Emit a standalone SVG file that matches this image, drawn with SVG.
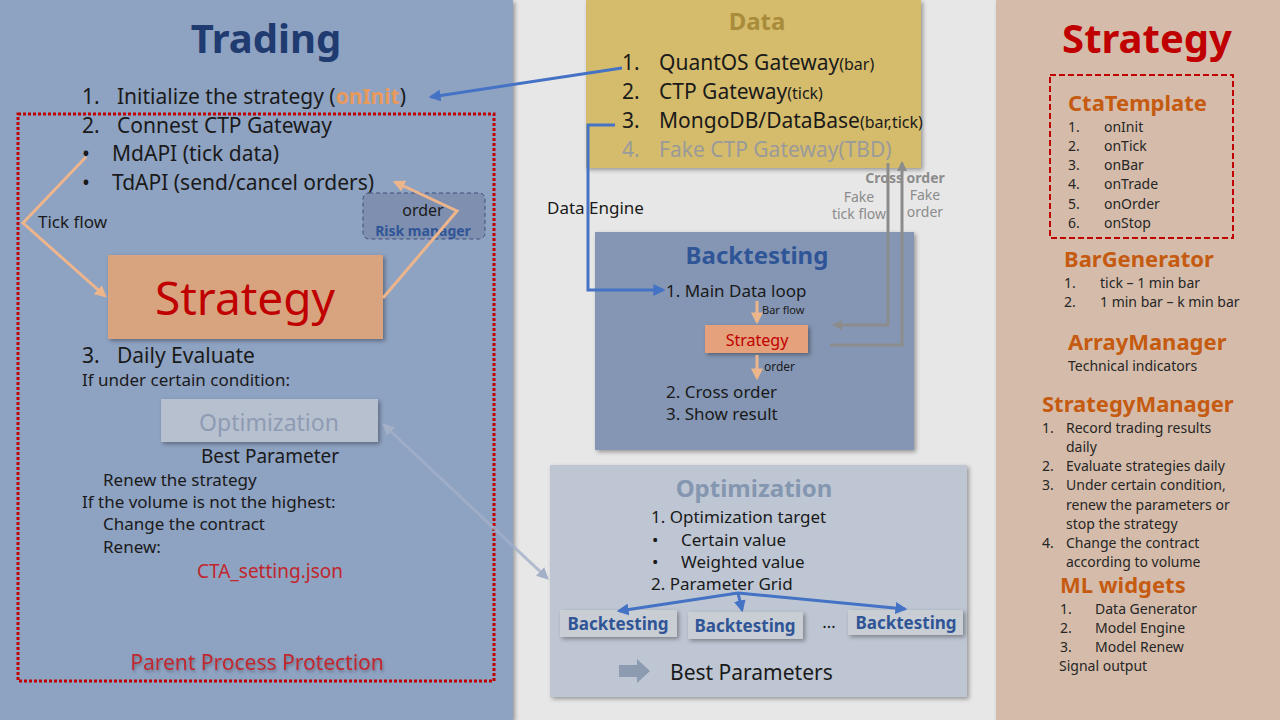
<svg xmlns="http://www.w3.org/2000/svg" width="1280" height="720" viewBox="0 0 1280 720">
<defs>
<style>
text{font-family:"Noto Sans","Open Sans","Liberation Sans",sans-serif;fill:#1a1a1a}
.b{font-weight:bold}
.t17{font-size:17px}
.t15{font-size:15px}
.t14{font-size:14px}
.t22{font-size:21px}
.h{font-weight:bold;fill:#C55A11;font-size:22px}
.item{font-size:14px;fill:#262626}
.tan{stroke:#EDB58C;stroke-width:3;fill:none}
.blue{stroke:#4472C4;stroke-width:3;fill:none}
.gray{stroke:#8C8C8C;stroke-width:3;fill:none}
.bt{font-weight:bold;fill:#2F5597;font-size:17px}
</style>
<filter id="sh" x="-10%" y="-10%" width="130%" height="140%"><feDropShadow dx="2" dy="2" stdDeviation="2" flood-color="#000" flood-opacity="0.35"/></filter>
<filter id="tsh" x="-10%" y="-30%" width="120%" height="180%"><feDropShadow dx="1" dy="2" stdDeviation="1.5" flood-color="#000" flood-opacity="0.3"/></filter>
<marker id="aTan" viewBox="0 0 10 10" refX="8" refY="5" markerWidth="4" markerHeight="4" orient="auto-start-reverse"><path d="M0,0L10,5L0,10z" fill="#EDB58C"/></marker>
<marker id="aBlue" viewBox="0 0 10 10" refX="8" refY="5" markerWidth="4" markerHeight="4" orient="auto-start-reverse"><path d="M0,0L10,5L0,10z" fill="#4472C4"/></marker>
<marker id="aGray" viewBox="0 0 10 10" refX="8" refY="5" markerWidth="3.5" markerHeight="3.5" orient="auto-start-reverse"><path d="M0,0L10,5L0,10z" fill="#8C8C8C"/></marker>
<marker id="aLb" viewBox="0 0 10 10" refX="8" refY="5" markerWidth="4" markerHeight="4" orient="auto-start-reverse"><path d="M0,0L10,5L0,10z" fill="#A3B0C8"/></marker>
</defs>
<rect width="1280" height="720" fill="#E7E7E7"/>

<g id="trading-panel">
<rect x="0" y="0" width="513" height="720" fill="#8EA2C2" filter="url(#sh)"/>
<text x="266" y="53" text-anchor="middle" class="b" style="font-size:40px;fill:#1F3B6F">Trading</text>
<text x="82" y="104" class="t22">1.</text>
<text x="117" y="104" class="t22">Initialize the strategy (<tspan style="fill:#E89A5C;font-weight:bold">onInit</tspan>)</text>
<rect x="18" y="114" width="476" height="567" fill="none" stroke="#C00000" stroke-width="3" stroke-dasharray="3,2"/>
<text x="82" y="133" class="t22">2.</text>
<text x="117" y="133" class="t22">Connest CTP Gateway</text>
<text x="82" y="161" class="t22">•</text>
<text x="112" y="161" class="t22">MdAPI (tick data)</text>
<text x="82" y="190" class="t22">•</text>
<text x="112" y="190" class="t22">TdAPI (send/cancel orders)</text>
<text x="38" y="228" class="t17">Tick flow</text>
<text x="82" y="363" class="t22">3.</text>
<text x="117" y="363" class="t22">Daily Evaluate</text>
<text x="82" y="386" class="t17">If under certain condition:</text>
<text x="270" y="463" text-anchor="middle" style="font-size:19px">Best Parameter</text>
<text x="103" y="486" class="t17">Renew the strategy</text>
<text x="82" y="508" class="t17">If the volume is not the highest:</text>
<text x="103" y="530" class="t17">Change the contract</text>
<text x="103" y="553" class="t17">Renew:</text>
<text x="270" y="578" text-anchor="middle" style="font-size:19px;fill:#C0272D">CTA_setting.json</text>
<text x="257" y="670" text-anchor="middle" filter="url(#tsh)" style="font-size:21px;fill:#C0272D">Parent Process Protection</text>
</g>

<g id="risk-manager">
<rect x="363" y="193" width="122" height="46" rx="6" fill="#7F8FAF" stroke="#3F4F7F" stroke-width="1" stroke-dasharray="4,3"/>
<text x="423" y="216" text-anchor="middle" style="font-size:16px">order</text>
<text x="423" y="236" text-anchor="middle" class="b t14" style="fill:#2F5597">Risk manager</text>
</g>

<g id="strategy-main">
<rect x="108" y="255" width="275" height="84" fill="#D8A480" filter="url(#sh)"/>
<text x="245" y="315" text-anchor="middle" style="font-size:46px;fill:#C00000">Strategy</text>
</g>

<g id="optimization-small">
<rect x="161" y="399" width="217" height="43" fill="#B7C0CF" filter="url(#sh)"/>
<text x="269" y="431" text-anchor="middle" style="font-size:23px;fill:#8E9BB3">Optimization</text>
</g>

<g id="data">
<rect x="586" y="0" width="335" height="168" fill="#D5BC6C" filter="url(#sh)"/>
<text x="757" y="30" text-anchor="middle" class="b" style="font-size:24px;fill:#A98C3B">Data</text>
<text x="622" y="70" class="t22">1.</text>
<text x="659" y="70" class="t22">QuantOS Gateway<tspan style="font-size:16px">(bar)</tspan></text>
<text x="622" y="99" class="t22">2.</text>
<text x="659" y="99" class="t22">CTP Gateway<tspan style="font-size:16px">(tick)</tspan></text>
<text x="622" y="128" class="t22">3.</text>
<text x="659" y="128" class="t22">MongoDB/DataBase<tspan style="font-size:16px">(bar,tick)</tspan></text>
<text x="622" y="157" class="t22" style="fill:#9A9A9A">4.</text>
<text x="659" y="157" class="t22" style="fill:#9A9A9A">Fake CTP Gateway(TBD)</text>
</g>

<g id="backtesting">
<rect x="595" y="232" width="319" height="218" fill="#8496B4" filter="url(#sh)"/>
<text x="757" y="264" text-anchor="middle" class="b" style="font-size:24px;fill:#2F5597">Backtesting</text>
<text x="666" y="297" class="t17">1. Main Data loop</text>
<text x="762" y="314" style="font-size:11px">Bar flow</text>
<rect x="705" y="325" width="103" height="28" fill="#E4A17C" filter="url(#sh)"/>
<text x="757" y="346" text-anchor="middle" style="font-size:16px;fill:#C00000">Strategy</text>
<text x="764" y="371" style="font-size:12px">order</text>
<text x="666" y="398" class="t17">2. Cross order</text>
<text x="666" y="420" class="t17">3. Show result</text>
</g>

<g id="optimization">
<rect x="550" y="465" width="417" height="232" fill="#BEC6D3" filter="url(#sh)"/>
<text x="754" y="497" text-anchor="middle" class="b" style="font-size:24px;fill:#8496B0">Optimization</text>
<text x="651" y="523" class="t17">1. Optimization target</text>
<text x="652" y="546" class="t17">•</text>
<text x="681" y="546" class="t17">Certain value</text>
<text x="652" y="568" class="t17">•</text>
<text x="681" y="568" class="t17">Weighted value</text>
<text x="651" y="590" class="t17">2. Parameter Grid</text>
<text x="829" y="628" text-anchor="middle" class="t17">…</text>
<path d="M619,665h18v-6l13,12l-13,12v-6h-18z" fill="#8C9BB0"/>
<text x="670" y="680" style="font-size:21px">Best Parameters</text>
</g>
<g id="bt1"><rect x="560" y="610" width="117" height="27" fill="#C9CDD4" filter="url(#sh)"/><text x="618" y="630" text-anchor="middle" class="bt">Backtesting</text></g>
<g id="bt2"><rect x="688" y="612" width="115" height="27" fill="#C9CDD4" filter="url(#sh)"/><text x="745" y="632" text-anchor="middle" class="bt">Backtesting</text></g>
<g id="bt3"><rect x="848" y="610" width="115" height="25" fill="#C9CDD4" filter="url(#sh)"/><text x="906" y="629" text-anchor="middle" class="bt">Backtesting</text></g>

<g id="strategy-panel">
<rect x="996" y="0" width="284" height="720" fill="#D5BCAA" filter="url(#sh)"/>
<text x="1147" y="53" text-anchor="middle" class="b" style="font-size:40px;fill:#C00000">Strategy</text>
<rect x="1050" y="75" width="183" height="163" fill="none" stroke="#C00000" stroke-width="2" stroke-dasharray="6,3"/>
<text x="1068" y="111" class="h">CtaTemplate</text>
<text x="1068" y="132" class="item">1.</text><text x="1104" y="132" class="item">onInit</text>
<text x="1068" y="151" class="item">2.</text><text x="1104" y="151" class="item">onTick</text>
<text x="1068" y="170" class="item">3.</text><text x="1104" y="170" class="item">onBar</text>
<text x="1068" y="189" class="item">4.</text><text x="1104" y="189" class="item">onTrade</text>
<text x="1068" y="209" class="item">5.</text><text x="1104" y="209" class="item">onOrder</text>
<text x="1068" y="228" class="item">6.</text><text x="1104" y="228" class="item">onStop</text>
<text x="1064" y="267" class="h">BarGenerator</text>
<text x="1064" y="288" class="item">1.</text><text x="1100" y="288" class="item">tick – 1 min bar</text>
<text x="1064" y="307" class="item">2.</text><text x="1100" y="307" class="item">1 min bar – k min bar</text>
<text x="1068" y="350" class="h">ArrayManager</text>
<text x="1068" y="371" class="item">Technical indicators</text>
<text x="1042" y="412" class="h">StrategyManager</text>
<text x="1042" y="433" class="item">1.</text><text x="1066" y="433" class="item">Record trading results</text>
<text x="1066" y="452" class="item">daily</text>
<text x="1042" y="471" class="item">2.</text><text x="1066" y="471" class="item">Evaluate strategies daily</text>
<text x="1042" y="490" class="item">3.</text><text x="1066" y="490" class="item">Under certain condition,</text>
<text x="1066" y="510" class="item">renew the parameters or</text>
<text x="1066" y="529" class="item">stop the strategy</text>
<text x="1042" y="548" class="item">4.</text><text x="1066" y="548" class="item">Change the contract</text>
<text x="1066" y="567" class="item">according to volume</text>
<text x="1060" y="593" class="h">ML widgets</text>
<text x="1060" y="614" class="item">1.</text><text x="1095" y="614" class="item">Data Generator</text>
<text x="1060" y="633" class="item">2.</text><text x="1095" y="633" class="item">Model Engine</text>
<text x="1060" y="652" class="item">3.</text><text x="1095" y="652" class="item">Model Renew</text>
<text x="1059" y="671" class="item">Signal output</text>
</g>

<g id="connectors">
<polyline class="tan" points="86,157 23,223 105,296" marker-end="url(#aTan)"/>
<polyline class="tan" points="383,298 457,211 395,182" marker-end="url(#aTan)"/>
<line class="blue" x1="622" y1="68" x2="431" y2="97" marker-end="url(#aBlue)"/>
<polyline class="blue" points="615,125 588,125 588,290 663,290" marker-end="url(#aBlue)"/>
<line stroke="#EDB58C" stroke-width="3" x1="757" y1="301" x2="757" y2="322" marker-end="url(#aTan)"/>
<line stroke="#EDB58C" stroke-width="3" x1="757" y1="355" x2="757" y2="378" marker-end="url(#aTan)"/>
<polyline class="gray" points="888,163 888,325 834,325" marker-end="url(#aGray)"/>
<polyline class="gray" points="830,345 902,345 902,163" marker-end="url(#aGray)"/>
<line stroke="#A3B0C8" stroke-width="3" stroke-opacity="0.8" x1="384" y1="425" x2="547" y2="578" marker-start="url(#aLb)" marker-end="url(#aLb)"/>
<line class="blue" stroke-width="2" x1="738" y1="593" x2="619" y2="611" marker-end="url(#aBlue)"/>
<line class="blue" stroke-width="2" x1="738" y1="593" x2="742" y2="610" marker-end="url(#aBlue)"/>
<line class="blue" stroke-width="2" x1="738" y1="593" x2="905" y2="609" marker-end="url(#aBlue)"/>
<text x="547" y="214" class="t17">Data Engine</text>
<text x="905" y="183" text-anchor="middle" class="b" style="font-size:14px;fill:#8C8C8C">Cross order</text>
<text x="859" y="202" text-anchor="middle" style="font-size:14px;fill:#8C8C8C">Fake</text>
<text x="859" y="219" text-anchor="middle" style="font-size:14px;fill:#8C8C8C">tick flow</text>
<text x="925" y="200" text-anchor="middle" style="font-size:14px;fill:#8C8C8C">Fake</text>
<text x="925" y="217" text-anchor="middle" style="font-size:14px;fill:#8C8C8C">order</text>
</g>
</svg>
